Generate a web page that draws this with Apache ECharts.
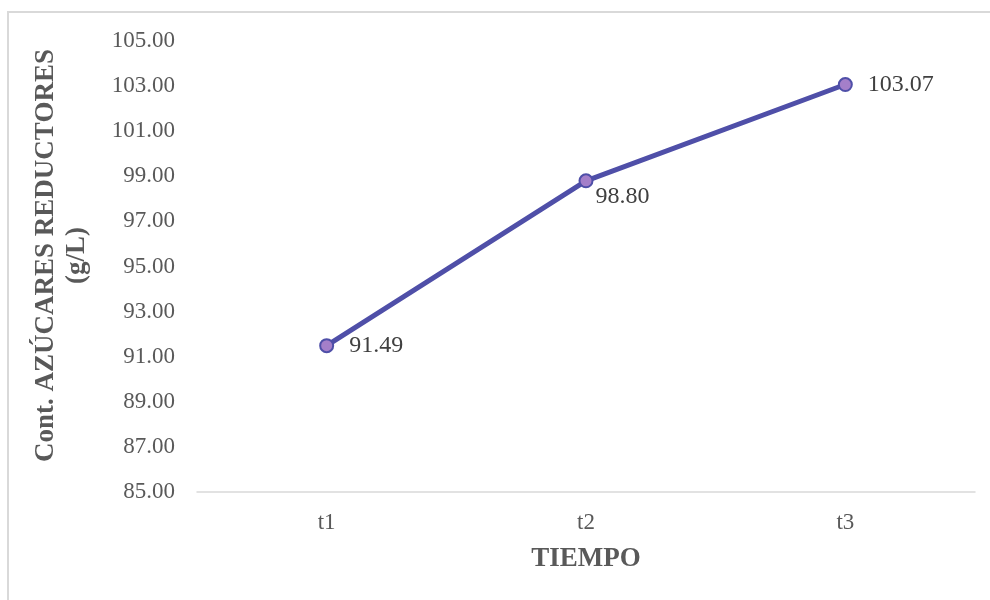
<!DOCTYPE html>
<html>
<head>
<meta charset="utf-8">
<script src="https://cdn.jsdelivr.net/npm/echarts@6/dist/echarts.min.js"></script>
<style>
  html, body { margin: 0; padding: 0; background: #fff; }
  #chart { width: 990px; height: 600px; }
</style>
</head>
<body>
<div id="chart"></div>
<script>
// Reducing sugar content over time
const categories = ['t1', 't2', 't3'];
const sugarValues = [91.49, 98.80, 103.07];
const yMin = 85, yMax = 105, yStep = 2;

const serif = '"Liberation Serif", "Times New Roman", serif';
const chart = echarts.init(document.getElementById('chart'));

chart.setOption({
  backgroundColor: '#ffffff',
  animation: false,
  graphic: [{
    type: 'rect',
    shape: { x: 8, y: 12, width: 1000, height: 700 },
    style: { fill: 'none', stroke: '#d9d9d9', lineWidth: 2 },
    silent: true
  }],
  grid: { left: 197, right: 15, top: 41, bottom: 108 },
  xAxis: {
    type: 'category',
    data: categories,
    boundaryGap: true,
    axisLine: { show: true, lineStyle: { color: '#d9d9d9', width: 1.5 } },
    axisTick: { show: false },
    axisLabel: { color: '#595959', fontFamily: serif, fontSize: 23, margin: 19 },
    name: 'TIEMPO',
    nameLocation: 'middle',
    nameGap: 54,
    nameTextStyle: { color: '#595959', fontFamily: serif, fontSize: 27, fontWeight: 'bold' }
  },
  yAxis: {
    type: 'value',
    min: yMin,
    max: yMax,
    interval: yStep,
    axisLine: { show: false },
    axisTick: { show: false },
    splitLine: { show: false },
    axisLabel: {
      color: '#595959', fontFamily: serif, fontSize: 23, margin: 22,
      formatter: v => v.toFixed(2)
    },
    name: 'Cont. AZÚCARES REDUCTORES\n(g/L)',
    nameLocation: 'middle',
    nameRotate: 90,
    nameGap: 104,
    nameTextStyle: {
      color: '#595959', fontFamily: serif, fontSize: 27, fontWeight: 'bold',
      lineHeight: 31, align: 'center', padding: [0, 0, 0, 22]
    }
  },
  series: [{
    type: 'line',
    symbol: 'circle',
    symbolSize: 13,
    lineStyle: { color: '#4f4fa8', width: 5 },
    itemStyle: { color: '#a47fc9', borderColor: '#4f4fa8', borderWidth: 2 },
    label: {
      show: true,
      color: '#404040',
      fontFamily: serif,
      fontSize: 24,
      formatter: p => p.value.toFixed(2),
      position: 'right',
      distance: 15
    },
    data: sugarValues.map((v, i) => i === 1
      ? { value: v, label: { position: [17, 11], align: 'left', verticalAlign: 'top' } }
      : v)
  }]
});
</script>
</body>
</html>
